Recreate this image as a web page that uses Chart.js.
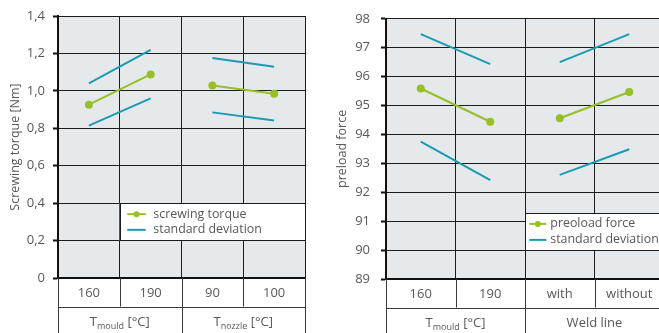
<!DOCTYPE html>
<html><head><meta charset="utf-8">
<script src="https://cdn.jsdelivr.net/npm/chart.js@4"></script>
<style>
html,body{margin:0;padding:0;width:659px;height:333px;overflow:hidden;background:#fff}
#c1{position:absolute;left:0;top:0}
#c2{position:absolute;left:330px;top:0}
</style></head><body>
<canvas id="c1" width="330" height="333"></canvas>
<canvas id="c2" width="345" height="333"></canvas>
<script>
// ---- data: left chart ----
const torqueCategories = ['160', '190', '90', '100'];
const torqueMean = [0.926, 1.088, 1.029, 0.985];
const torqueStdUpper = [1.040, 1.219, 1.176, 1.129];
const torqueStdLower = [0.814, 0.960, 0.885, 0.842];
const torqueTickLabels = ['0', '0,2', '0,4', '0,6', '0,8', '1,0', '1,2', '1,4'];
const torqueGroups = [['T', 'mould', ' [°C]'], ['T', 'nozzle', ' [°C]']];
const torqueLegend = ['screwing torque', 'standard deviation'];

// ---- data: right chart ----
const forceCategories = ['160', '190', 'with', 'without'];
const forceMean = [95.59, 94.44, 94.56, 95.47];
const forceStdUpper = [97.47, 96.43, 96.50, 97.47];
const forceStdLower = [93.75, 92.42, 92.60, 93.49];
const forceTickLabels = ['89', '90', '91', '92', '93', '94', '95', '96', '97', '98'];
const forceGroups = [['T', 'mould', ' [°C]'], ['Weld line', '', '']];
const forceLegend = ['preoload force', 'standard deviation'];

const GREEN = '#97bf26';
const TEAL = '#1a9bb2';
const TEXT = '#585858';
const FONT = "'Open Sans', 'DejaVu Sans', sans-serif";
const GRID = '#1c1c1c';

function gapSeg(color) {
  return { borderColor: ctx => (ctx.p0DataIndex === 1 ? 'rgba(0,0,0,0)' : color) };
}

function tablePlugin(groups, legendTexts, legendPos) {
  return {
    id: 'table',
    beforeDraw(chart) {
      const a = chart.chartArea, c = chart.ctx;
      c.save();
      c.fillStyle = '#e6e9ec';
      c.fillRect(a.left, a.top, a.right - a.left, a.bottom - a.top);
      c.restore();
    },
    afterDraw(chart) {
      const a = chart.chartArea, c = chart.ctx, xs = chart.scales.x, ys = chart.scales.y;
      const b1 = (xs.getPixelForValue(0) + xs.getPixelForValue(1)) / 2;
      const b2 = (xs.getPixelForValue(1) + xs.getPixelForValue(2)) / 2;
      const b3 = (xs.getPixelForValue(2) + xs.getPixelForValue(3)) / 2;
      const rowY = a.bottom + 28.5;
      const H = chart.height;
      c.save();
      c.strokeStyle = '#3a3a3a';
      c.lineWidth = 1;
      c.beginPath();
      [a.left, b2, a.right].forEach(x => { c.moveTo(Math.round(x) + 0.5, a.bottom); c.lineTo(Math.round(x) + 0.5, H); });
      [b1, b3].forEach(x => { c.moveTo(Math.round(x) + 0.5, a.bottom); c.lineTo(Math.round(x) + 0.5, rowY); });
      c.moveTo(a.left, Math.round(rowY) + 0.5); c.lineTo(a.right, Math.round(rowY) + 0.5);
      c.stroke();
      // group labels
      const centers = [(a.left + b2) / 2, (b2 + a.right) / 2];
      const gy = rowY + 16;
      groups.forEach((g, i) => {
        const f1 = '13px ' + FONT, f2 = '9px ' + FONT;
        c.font = f1; const w1 = c.measureText(g[0]).width;
        c.font = f2; const w2 = c.measureText(g[1]).width;
        c.font = f1; const w3 = c.measureText(g[2]).width;
        let x = centers[i] - (w1 + w2 + w3) / 2;
        c.fillStyle = TEXT; c.textBaseline = 'middle'; c.textAlign = 'left';
        c.font = f1; c.fillText(g[0], x, gy); x += w1;
        c.font = f2; c.fillText(g[1], x, gy + 4); x += w2;
        c.font = f1; c.fillText(g[2], x, gy);
      });
      // legend
      const L = legendPos(xs, ys, a, b1, b2);
      c.fillStyle = '#ffffff';
      c.fillRect(L.left, L.top, L.right - L.left, L.bottom - L.top);
      c.strokeStyle = GRID; c.lineWidth = 1;
      c.strokeRect(Math.round(L.left) + 0.5, Math.round(L.top) + 0.5, Math.round(L.right - L.left), Math.round(L.bottom - L.top));
      const rows = [L.top + L.r1, L.top + L.r2];
      c.lineWidth = 2;
      c.strokeStyle = GREEN;
      c.beginPath(); c.moveTo(L.left + L.l0, rows[0]); c.lineTo(L.left + L.l1, rows[0]); c.stroke();
      c.fillStyle = GREEN;
      c.beginPath(); c.arc(L.left + (L.l0 + L.l1) / 2, rows[0], 3, 0, Math.PI * 2); c.fill();
      c.strokeStyle = TEAL;
      c.beginPath(); c.moveTo(L.left + L.l0, rows[1]); c.lineTo(L.left + L.l1, rows[1]); c.stroke();
      c.fillStyle = TEXT; c.font = '12.4px ' + FONT; c.textBaseline = 'middle'; c.textAlign = 'left';
      c.fillText(legendTexts[0], L.left + L.tx, rows[0]);
      c.fillText(legendTexts[1], L.left + L.tx, rows[1]);
      c.restore();
    }
  };
}

function makeChart(id, o) {
  return new Chart(document.getElementById(id), {
    type: 'line',
    data: {
      labels: o.categories,
      datasets: [
        { data: o.upper, borderColor: TEAL, borderWidth: 2, pointRadius: 0, segment: gapSeg(TEAL), fill: false, tension: 0 },
        { data: o.lower, borderColor: TEAL, borderWidth: 2, pointRadius: 0, segment: gapSeg(TEAL), fill: false, tension: 0 },
        { data: o.mean, borderColor: GREEN, borderWidth: 2, pointRadius: 4, pointBorderWidth: 0, pointBackgroundColor: GREEN, segment: gapSeg(GREEN), fill: false, tension: 0 }
      ]
    },
    options: {
      responsive: false, animation: false, devicePixelRatio: 1,
      layout: { padding: { left: 0, right: o.padRight, top: o.padTop, bottom: 0 } },
      plugins: { legend: { display: false }, tooltip: { enabled: false } },
      scales: {
        x: {
          offset: true,
          grid: { offset: true, color: GRID, lineWidth: 1, drawTicks: false },
          border: { display: true, color: '#111', width: 2 },
          ticks: { color: TEXT, font: { family: FONT, size: 13 }, padding: 7, maxRotation: 0, autoSkip: false },
          afterFit: s => { s.height = o.xHeight; }
        },
        y: {
          min: o.min, max: o.max,
          ticks: { stepSize: o.step, autoSkip: false, color: TEXT, font: { family: FONT, size: 13 }, padding: o.tickPad, callback: (v, i) => o.tickLabels[i] },
          grid: { color: GRID, lineWidth: 1, tickLength: 5, tickColor: '#111', tickWidth: 2 },
          border: { display: true, color: '#111', width: 2 },
          title: { display: true, text: o.title, color: TEXT, font: { family: FONT, size: 12.5 }, padding: { top: o.titlePad, bottom: 0 } },
          afterFit: s => { s.width = o.yWidth; }
        }
      }
    },
    plugins: [tablePlugin(o.groups, o.legend, o.legendPos)]
  });
}

makeChart('c1', {
  categories: torqueCategories, mean: torqueMean, upper: torqueStdUpper, lower: torqueStdLower,
  tickLabels: torqueTickLabels, min: 0, max: 1.4, step: 0.2, title: 'Screwing torque [Nm]',
  groups: torqueGroups, legend: torqueLegend,
  padRight: 25, padTop: 16, xHeight: 55, yWidth: 58, tickPad: 8, titlePad: 8,
  legendPos: (xs, ys, a, b1, b2) => ({ left: b1, right: a.right, top: ys.getPixelForValue(0.4), bottom: ys.getPixelForValue(0.2), r1: 11, r2: 26.7, l0: 7.5, l1: 26, tx: 33.6 })
});

makeChart('c2', {
  categories: forceCategories, mean: forceMean, upper: forceStdUpper, lower: forceStdLower,
  tickLabels: forceTickLabels, min: 89, max: 98, step: 1, title: 'preload force',
  groups: forceGroups, legend: forceLegend,
  padRight: 11, padTop: 16, xHeight: 54, yWidth: 56, tickPad: 11, titlePad: 5,
  legendPos: (xs, ys, a, b1, b2) => ({ left: b2, right: a.right, top: ys.getPixelForValue(91) - 8, bottom: ys.getPixelForValue(90), r1: 10.7, r2: 26.7, l0: 4.3, l1: 21.3, tx: 25.3 })
});
</script>
</body></html>
